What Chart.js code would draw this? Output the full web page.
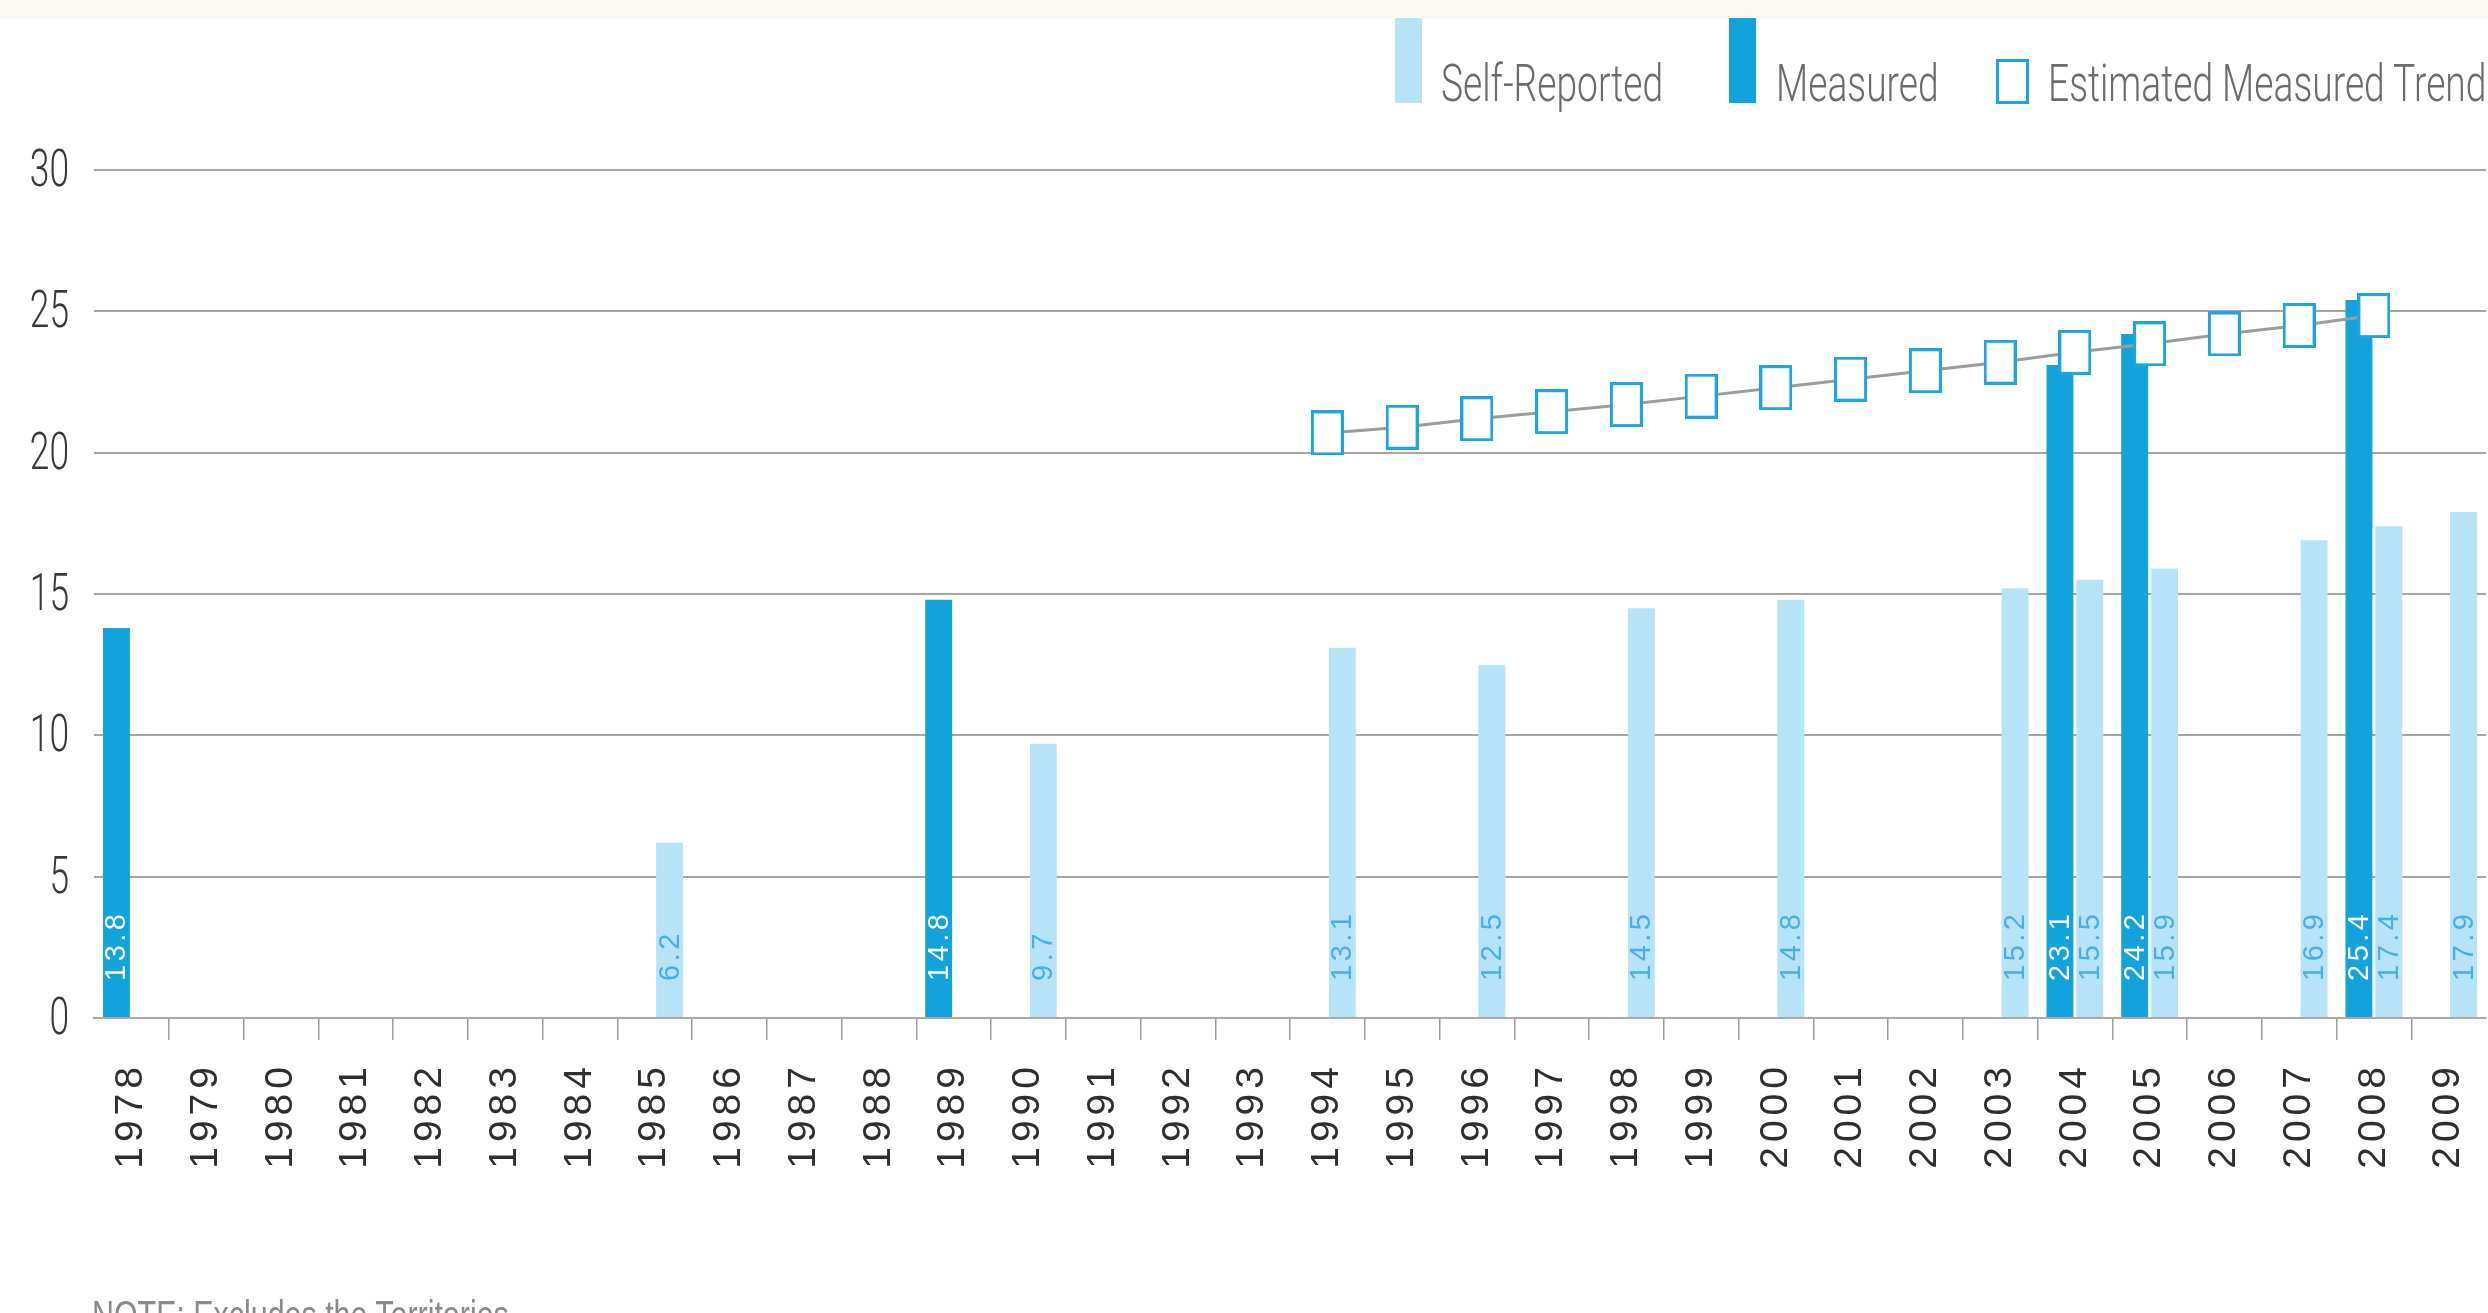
<!DOCTYPE html>
<html lang="en">
<head>
  <meta charset="UTF-8">
  <title>Self-Reported and Measured</title>
  <style>
* {
  margin: 0;
  padding: 0;
  box-sizing: border-box;
}
html, body {
  width: 2488px;
  height: 1313px;
  overflow: hidden;
  background: #fff;
}
body {
  position: relative;
  font-family: 'Liberation Sans', Arial, sans-serif;
}
.top-band {
  position: absolute;
  left: 0;
  top: 0;
  width: 2488px;
  height: 18px;
  background: #f9f9f1;
  z-index: 2;
}
#chart {
  position: absolute;
  left: 0;
  top: 0;
}
.swatch {
  position: absolute;
  top: 18px;
  width: 27px;
  height: 85px;
}
.legend-text {
  position: absolute;
  top: 58px;
  white-space: nowrap;
  font-family: Roboto, 'Liberation Sans', sans-serif;
  font-weight: 300;
  font-size: 52px;
  line-height: 1;
  color: #6b6b6b;
  transform: scaleX(0.715);
  transform-origin: 0 0;
}
.lg-0 .swatch { left: 1395px; }
.lg-0 .legend-text { left: 1441px; }
.lg-1 .swatch { left: 1729px; }
.lg-1 .legend-text { left: 1776px; }
.lg-2 .swatch {
  left: 1996px;
  top: 59px;
  width: 33px;
  height: 45px;
  border: 3px solid;
  background: #fff;
}
.lg-2 .legend-text { left: 2048px; }
.note {
  position: absolute;
  left: 92px;
  top: 1295px;
  font-size: 40px;
  line-height: 1;
  color: #8a8a8a;
  white-space: nowrap;
  transform: scaleX(0.76);
  transform-origin: 0 0;
}
  </style>
</head>
<body>
  <div class="top-band"></div>
  <canvas id="chart" width="2488" height="1313"></canvas>
  <div id="legend"></div>
  <div class="note">NOTE: Excludes the Territories</div>
  <script src="https://cdn.jsdelivr.net/npm/chart.js@4.4.1/dist/chart.umd.min.js"></script>
  <script>
    const years = ['1978', '1979', '1980', '1981', '1982', '1983', '1984', '1985', '1986', '1987',
      '1988', '1989', '1990', '1991', '1992', '1993', '1994', '1995', '1996', '1997', '1998',
      '1999', '2000', '2001', '2002', '2003', '2004', '2005', '2006', '2007', '2008', '2009'];

    const measured = [13.8, null, null, null, null, null, null, null, null, null,
      null, 14.8, null, null, null, null, null, null, null, null, null,
      null, null, null, null, null, 23.1, 24.2, null, null, 25.4, null];

    const selfReported = [null, null, null, null, null, null, null, 6.2, null, null,
      null, null, 9.7, null, null, null, 13.1, null, 12.5, null, 14.5,
      null, 14.8, null, null, 15.2, 15.5, 15.9, null, 16.9, 17.4, 17.9];

    const measuredTrend = [null, null, null, null, null, null, null, null, null, null,
      null, null, null, null, null, null, 20.7, 20.9, 21.2, 21.45, 21.7,
      22.0, 22.3, 22.6, 22.9, 23.2, 23.55, 23.85, 24.2, 24.5, 24.85, null];

    const yTicks = [0, 5, 10, 15, 20, 25, 30];

    const darkBlue = '#12a2dc';
    const lightBlue = '#b6e3f7';
    const labelInk = { 'Measured': '#ffffff', 'Self-Reported': '#45b0e4' };

    // marker for the trend points: tall white box with blue edge
    let marker = document.createElement('canvas');
    marker.width = 33;
    marker.height = 45;
    let mctx = marker.getContext('2d');
    mctx.fillStyle = '#fff';
    mctx.fillRect(1, 1, 31, 43);
    mctx.strokeStyle = '#1ea4e0';
    mctx.lineWidth = 3;
    mctx.strokeRect(1.5, 1.5, 30, 42);

    const textPlugin = {
      id: 'textPlugin',
      beforeDraw(chart) {
        // spaced-out year labels
        chart.ctx.letterSpacing = '5px';
      },
      afterDatasetsDraw(chart) {
        let ctx = chart.ctx;
        chart.data.datasets.forEach((ds, di) => {
          if (ds.type === 'line') return;
          let meta = chart.getDatasetMeta(di);
          meta.data.forEach((bar, i) => {
            let v = ds.data[i];
            if (v === null) return;
            ctx.save();
            ctx.letterSpacing = '3.5px';
            ctx.font = '29px "Liberation Sans", Arial, sans-serif';
            ctx.fillStyle = labelInk[ds.label];
            ctx.translate(bar.x, bar.base - 36);
            ctx.rotate(-Math.PI / 2);
            ctx.textAlign = 'left';
            ctx.textBaseline = 'middle';
            ctx.fillText(v.toFixed(1), 0, 1);
            ctx.restore();
          });
        });
      },
      afterDraw(chart) {
        let ctx = chart.ctx;
        let y = chart.scales.y;
        ctx.letterSpacing = '0px';
        ctx.save();
        ctx.font = '300 52px Roboto, "Liberation Sans", sans-serif';
        ctx.fillStyle = '#383838';
        ctx.textAlign = 'right';
        ctx.textBaseline = 'alphabetic';
        y.ticks.forEach(t => {
          ctx.save();
          ctx.translate(chart.chartArea.left - 25, y.getPixelForValue(t.value));
          ctx.scale(0.68, 1);
          ctx.fillText(String(t.value), 0, 16);
          ctx.restore();
        });
        ctx.restore();
      }
    };

    let chart = new Chart(document.getElementById('chart').getContext('2d'), {
      type: 'bar',
      data: {
        labels: years,
        datasets: [
          {
            type: 'line',
            label: 'Estimated Measured Trend',
            data: measuredTrend,
            order: 0,
            borderColor: '#9c9c9c',
            borderWidth: 3,
            tension: 0,
            fill: false,
            pointStyle: marker,
            pointRadius: 16,
            pointBorderColor: '#1ea4e0',
            pointBackgroundColor: '#fff'
          },
          {
            label: 'Measured',
            data: measured,
            order: 1,
            backgroundColor: darkBlue,
            borderWidth: 0
          },
          {
            label: 'Self-Reported',
            data: selfReported,
            order: 2,
            backgroundColor: lightBlue,
            borderWidth: 0
          }
        ]
      },
      options: {
        responsive: false,
        animation: false,
        events: [],
        layout: {
          autoPadding: false,
          padding: { top: 170, right: 2, left: 0, bottom: 0 }
        },
        plugins: {
          legend: { display: false },
          tooltip: { enabled: false }
        },
        scales: {
          x: {
            offset: true,
            grid: {
              offset: true,
              drawOnChartArea: false,
              drawTicks: true,
              tickLength: 22,
              lineWidth: 1.5,
              color: c => (c.type !== 'tick' || c.index === 0) ? 'rgba(0,0,0,0)' : '#9c9c9c'
            },
            border: { display: true, color: '#a9a9a9', width: 2 },
            ticks: {
              minRotation: 90,
              maxRotation: 90,
              autoSkip: false,
              padding: 22,
              color: '#2e2e2e',
              font: { family: '"Liberation Sans", Arial, sans-serif', size: 39 }
            },
            afterFit: s => {
              s.height = 295;
              s.paddingLeft = 0;
              s.paddingRight = 0;
            }
          },
          y: {
            min: 0,
            max: 30,
            afterBuildTicks: s => { s.ticks = yTicks.map(v => ({ value: v })); },
            grid: { drawTicks: false, color: '#a5a5a5', lineWidth: 2 },
            border: { display: false },
            ticks: { display: false },
            afterFit: s => {
              s.width = 94;
              s.paddingTop = 0;
              s.paddingBottom = 0;
            }
          }
        }
      },
      plugins: [textPlugin]
    });

    // legend built from the datasets, in the order the reference shows
    let legendOrder = ['Self-Reported', 'Measured', 'Estimated Measured Trend'];
    let legend = document.getElementById('legend');
    legendOrder.forEach((name, k) => {
      let ds = chart.data.datasets.find(d => d.label === name);
      let swatchStyle = ds.type === 'line'
        ? `border-color:${ds.pointBorderColor}`
        : `background:${ds.backgroundColor}`;
      legend.insertAdjacentHTML('beforeend', `<div class="lg-${k}">
          <div class="swatch" style="${swatchStyle}"></div>
          <span class="legend-text">${ds.label}</span>
        </div>`);
    });
  </script>
</body>
</html>
